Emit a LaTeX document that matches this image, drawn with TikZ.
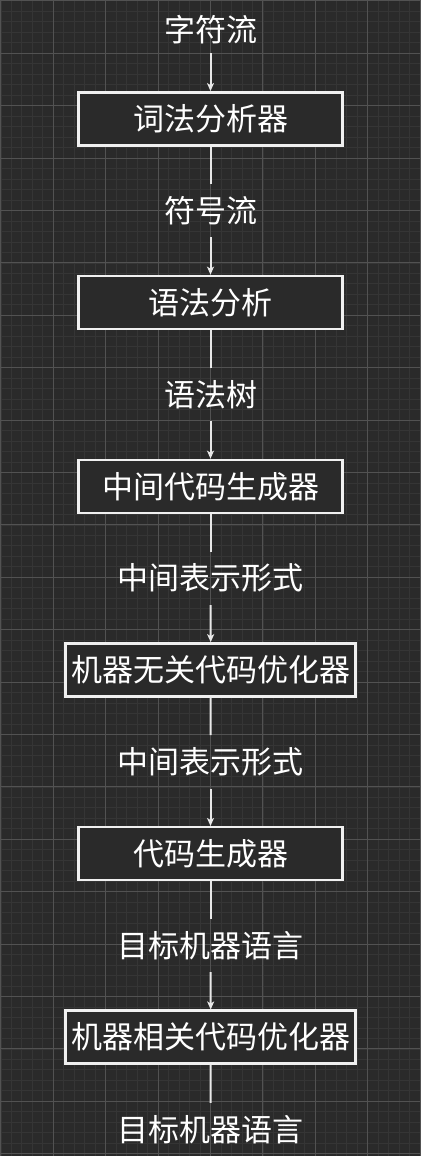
\documentclass[tikz,border=0pt]{standalone}
\usepackage{fontspec}
\newfontfamily\cjk{Noto Sans CJK SC}
\usetikzlibrary{arrows.meta}
\definecolor{bgc}{HTML}{2A2A2A}
\definecolor{minorc}{HTML}{353535}
\definecolor{majorc}{HTML}{525252}
\definecolor{linec}{HTML}{E8E8E8}
\definecolor{boxc}{HTML}{F0F0F0}
\tikzset{
  minorgrid/.style={draw=minorc, line width=0.8pt},
  majorgrid/.style={draw=majorc, line width=0.9pt},
  stagebox/.style={draw=boxc, line width=2.5pt, fill=bgc, minimum height=53pt, inner sep=0pt, text=white, font=\cjk\fontsize{31}{31}\selectfont},
  flowlabel/.style={inner sep=0pt, minimum height=53pt, text=white, font=\cjk\fontsize{31}{31}\selectfont},
  link/.style={draw=linec, line width=2pt},
  arrowlink/.style={link, -{Stealth[length=8pt,width=7pt,inset=2pt]}},
}
\begin{document}
\begin{tikzpicture}[x=1pt,y=-1pt]
\useasboundingbox (0,0) rectangle (421,1156);
\fill[bgc] (0,0) rectangle (421,1156);
% grid
\foreach \i in {0,...,40} { \draw[minorgrid] ({0.9+10.48*\i},0) -- ({0.9+10.48*\i},1156); }
\foreach \i in {0,...,110} { \draw[minorgrid] (0,{0.9+10.48*\i}) -- (421,{0.9+10.48*\i}); }
\foreach \i in {0,...,8} { \draw[majorgrid] ({0.9+52.4*\i},0) -- ({0.9+52.4*\i},1156); }
\foreach \i in {0,...,22} { \draw[majorgrid] (0,{0.9+52.4*\i}) -- (421,{0.9+52.4*\i}); }
% nodes
\node[flowlabel, minimum height=46pt] (lab0) at (210.5,30) {字符流};
\node[stagebox, minimum width=264pt] (box1) at (210.5,118.8) {词法分析器};
\node[flowlabel] (lab1) at (210.5,210.5) {符号流};
\node[stagebox, minimum width=264pt] (box2) at (210.5,302.4) {语法分析};
\node[flowlabel] (lab2) at (210.5,394.5) {语法树};
\node[stagebox, minimum width=264pt] (box3) at (210.5,486.4) {中间代码生成器};
\node[flowlabel] (lab3) at (210.5,578.3) {中间表示形式};
\node[stagebox, minimum width=290pt] (box4) at (210.7,669.9) {机器无关代码优化器};
\node[flowlabel] (lab4) at (210.5,761.8) {中间表示形式};
\node[stagebox, minimum width=264pt] (box5) at (210.5,853.7) {代码生成器};
\node[flowlabel] (lab5) at (210.5,945.5) {目标机器语言};
\node[stagebox, minimum width=290pt] (box6) at (210.7,1037.2) {机器相关代码优化器};
\node[flowlabel, minimum height=54pt] (lab6) at (210.5,1130) {目标机器语言};
% connectors
\draw[arrowlink] (lab0.south) -- (box1.north);
\draw[link] (box1.south) -- (lab1.north);
\draw[arrowlink] (lab1.south) -- (box2.north);
\draw[link] (box2.south) -- (lab2.north);
\draw[arrowlink] (lab2.south) -- (box3.north);
\draw[link] (box3.south) -- (lab3.north);
\draw[arrowlink] (lab3.south) -- (box4.north);
\draw[link] (box4.south) -- (lab4.north);
\draw[arrowlink] (lab4.south) -- (box5.north);
\draw[link] (box5.south) -- (lab5.north);
\draw[arrowlink] (lab5.south) -- (box6.north);
\draw[link] (box6.south) -- (lab6.north);
\end{tikzpicture}
\end{document}
